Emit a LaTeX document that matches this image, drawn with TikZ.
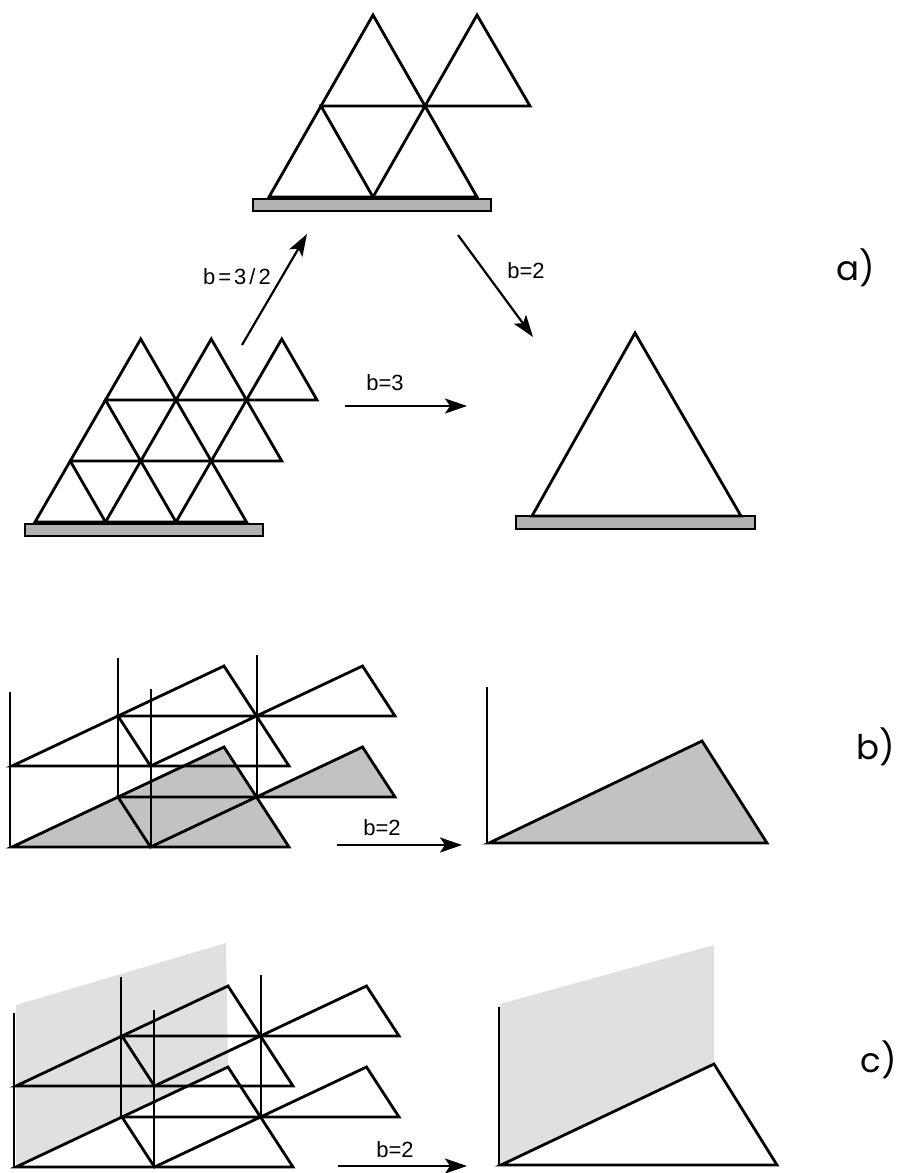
\documentclass[tikz,border=0pt]{standalone}
\usepackage{fontspec}
\setmainfont{Liberation Sans}
\newfontfamily\geo{Poppins}
\usetikzlibrary{arrows.meta}
\begin{document}
\begin{tikzpicture}[x=1pt,y=-1pt,
  edge/.style={line width=2.8pt, line join=miter},
  axisline/.style={line width=1.4pt},
  bar/.style={draw=black, line width=1.6pt, fill=black!30},
  darkshade/.style={fill=black!24},
  lightshade/.style={fill=black!12},
  flow/.style={line width=2.2pt, -{Stealth[length=22pt,width=15pt,inset=5pt]}},
  lbl/.style={font=\fontsize{22}{26}\selectfont, inner sep=0pt},
  part/.style={font=\geo\fontsize{34}{40}\selectfont, inner sep=0pt},
  grp/.pic={
    \draw[edge] (0,0) -- (277,0) -- (212,-100) -- cycle;
    \draw[edge] (106,-50) -- (138.5,0) -- (244.5,-50) -- cycle;
    \draw[edge] (244.5,-50) -- (383,-50) -- (350.5,-100) -- cycle;
  }]
\useasboundingbox (0,0) rectangle (897,1173);

% ---------------- a) top figure
\filldraw[bar] (253,199) rectangle (491,211);
\draw[edge] (269,197) -- (477,197) -- (373,15) -- cycle;
\draw[edge] (321,106) -- (373,197) -- (425,106) -- cycle;
\draw[edge] (425,106) -- (530,106) -- (477,15) -- cycle;

% ---------------- a) left lattice
\filldraw[bar] (25,524) rectangle (263,536);
\foreach \k in {0,1,2}{
  \foreach \i in {0,1,2}{
    \pgfmathsetmacro\xa{35+35.25*\k+70.5*\i}
    \pgfmathsetmacro\ya{522-61*\k}
    \draw[edge] (\xa,\ya) -- ++(70.5,0) -- ++(-35.25,-61) -- cycle;
  }
}

% ---------------- a) right triangle
\filldraw[bar] (516,516) rectangle (755,529);
\draw[edge] (532,516) -- (741,516) -- (635,333) -- cycle;

% ---------------- a) arrows
\coordinate (s1) at (242,345); \coordinate (e1) at (307,234);
\coordinate (s2) at (458,235); \coordinate (e2) at (533,337);
\coordinate (s3) at (345,406); \coordinate (e3) at (467,406);
\draw[flow] (s1) -- (e1);
\draw[flow] (s2) -- (e2);
\draw[flow] (s3) -- (e3);
\node[lbl] (l1) at (237,277) {b\hspace{3pt}=\hspace{3pt}3\hspace{3pt}/\hspace{3pt}2};
\node[lbl] (l2) at (526,271) {b=2};
\node[lbl] (l3) at (385,383) {b=3};
\node[part] (pa) at (856,268) {a)};

% ---------------- b) left
\fill[darkshade] (12,847) -- (289,847) -- (224,747) -- cycle;
\fill[darkshade] (256.5,797) -- (395,797) -- (362.5,747) -- cycle;
\draw[axisline] (10,847) -- (10,692);
\draw[axisline] (118,797) -- (118,658);
\draw[axisline] (151,847) -- (151,689);
\draw[axisline] (257,797) -- (257,655);
\pic at (12,847) {grp};
\pic at (12,766) {grp};

% ---------------- b) right
\fill[darkshade] (489,843) -- (767,843) -- (702,741) -- cycle;
\draw[axisline] (487,843) -- (487,687);
\draw[edge] (489,843) -- (767,843) -- (702,741) -- cycle;

\coordinate (s4) at (337,845); \coordinate (e4) at (462,845);
\draw[flow] (s4) -- (e4);
\node[lbl] (l4) at (382,828) {b=2};
\node[part] (pb) at (876,747) {b)};

% ---------------- c) left
\fill[lightshade] (16,1167) -- (228,1067) -- (226,943) -- (16,1005) -- cycle;
\draw[axisline] (14,1167) -- (14,1013);
\draw[axisline] (121,1118) -- (121,977);
\draw[axisline] (154,1167) -- (154,1010);
\draw[axisline] (261,1118) -- (261,975);
\pic at (16,1167) {grp};
\pic at (16,1086) {grp};

% ---------------- c) right
\fill[lightshade] (500,1165) -- (714,1064) -- (714,945) -- (500,1004) -- cycle;
\draw[axisline] (499,1165) -- (499,1007);
\draw[edge] (501,1165) -- (777,1165) -- (714,1064) -- cycle;

\coordinate (s5) at (338,1166); \coordinate (e5) at (467,1166);
\draw[flow] (s5) -- (e5);
\node[lbl] (l5) at (395,1150) {b=2};
\node[part] (pc) at (879,1060) {c)};
\end{tikzpicture}
\end{document}
